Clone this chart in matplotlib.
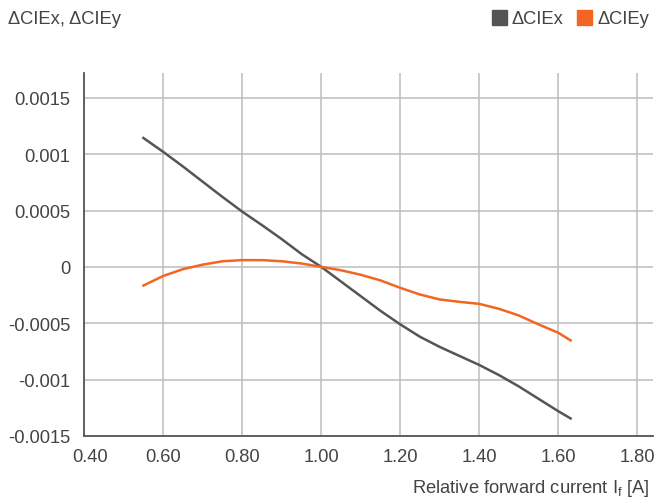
import matplotlib
matplotlib.use("Agg")
import matplotlib.pyplot as plt
from matplotlib.patches import Rectangle
from matplotlib.transforms import ScaledTranslation

plt.rcParams['font.family'] = ['Liberation Sans', 'DejaVu Sans']
plt.rcParams['mathtext.default'] = 'regular'

# Relative forward current [A]
current = [0.547, 0.60, 0.65, 0.70, 0.75, 0.80, 0.85, 0.90, 0.95, 1.00, 1.05,
           1.10, 1.15, 1.20, 1.25, 1.30, 1.35, 1.40, 1.45, 1.50, 1.55, 1.60, 1.634]

# Chromaticity shift
d_cie_x = [0.00115, 0.00102, 0.00089, 0.000755, 0.00062, 0.00049, 0.00037, 0.000246,
           0.000114, 0.0, -0.00013, -0.00026, -0.00039, -0.00051, -0.00062, -0.00071,
           -0.00079, -0.00087, -0.00096, -0.00106, -0.00117, -0.00128, -0.00135]
d_cie_y = [-0.00017, -0.00008, -0.00002, 0.00002, 0.00005, 0.00006, 0.00006, 0.00005,
           0.00003, 0.0, -0.00003, -0.00007, -0.00012, -0.000186, -0.000245, -0.000289,
           -0.00031, -0.000328, -0.000372, -0.000431, -0.00051, -0.000584, -0.000658]

x_ticks = [0.40, 0.60, 0.80, 1.00, 1.20, 1.40, 1.60, 1.80]
x_tick_labels = ["0.40", "0.60", "0.80", "1.00", "1.20", "1.40", "1.60", "1.80"]
y_ticks = [-0.0015, -0.001, -0.0005, 0, 0.0005, 0.001, 0.0015]
y_tick_labels = ["-0.0015", "-0.001", "-0.0005", "0", "0.0005", "0.001", "0.0015"]

series_names = ["\u0394CIEx", "\u0394CIEy"]
colors = ["#555555", "#f26522"]
text_color = "#444444"
grid_color = "#bdbdbd"

fig = plt.figure(figsize=(6.56, 5.02), dpi=100)
ax = fig.add_axes([0.1285, 0.1295, 0.867, 0.7231])

ax.plot(current, d_cie_x, color=colors[0], lw=1.8, solid_capstyle='butt',
        solid_joinstyle='round', zorder=3)
ax.plot(current, d_cie_y, color=colors[1], lw=1.8, solid_capstyle='butt',
        solid_joinstyle='round', zorder=3)

ax.set_xlim(0.4, 1.84)
ax.set_ylim(-0.0015, 0.00172)
ax.set_xticks(x_ticks)
ax.set_xticklabels(x_tick_labels)
ax.set_yticks(y_ticks)
ax.set_yticklabels(y_tick_labels)

ax.grid(True, color=grid_color, lw=1.1, zorder=0)
ax.set_axisbelow(True)
for s in ['top', 'right']:
    ax.spines[s].set_visible(False)
for s in ['left', 'bottom']:
    ax.spines[s].set_color('#555555')
    ax.spines[s].set_linewidth(1.3)

ax.tick_params(axis='both', length=0, labelsize=13.2, labelcolor=text_color)
ax.tick_params(axis='y', pad=10)
ax.tick_params(axis='x', pad=9)

# nudge the first x label clear of the y-axis labels
first = ax.get_xticklabels()[0]
first.set_transform(first.get_transform() + ScaledTranslation(6 / 100, 0, fig.dpi_scale_trans))

fig.text(650 / 656, 1 - 489 / 502, "Relative forward current I$_{f}$ [A]",
         ha='right', va='center', fontsize=13.2, color=text_color)
fig.text(8 / 656, 1 - 19 / 502, "\u0394CIEx, \u0394CIEy",
         ha='left', va='center', fontsize=13.2, color=text_color)

# legend: squares and labels
sq = 15
for (x0, tx), name, c in zip([(492, 512), (577, 597)], series_names, colors):
    fig.patches.append(Rectangle((x0 / 656, 1 - 26 / 502), sq / 656, sq / 502,
                                 transform=fig.transFigure, color=c, figure=fig))
    fig.text(tx / 656, 1 - 19 / 502, name, ha='left', va='center',
             fontsize=13.2, color=text_color)

fig.savefig("out.png", dpi=100)
